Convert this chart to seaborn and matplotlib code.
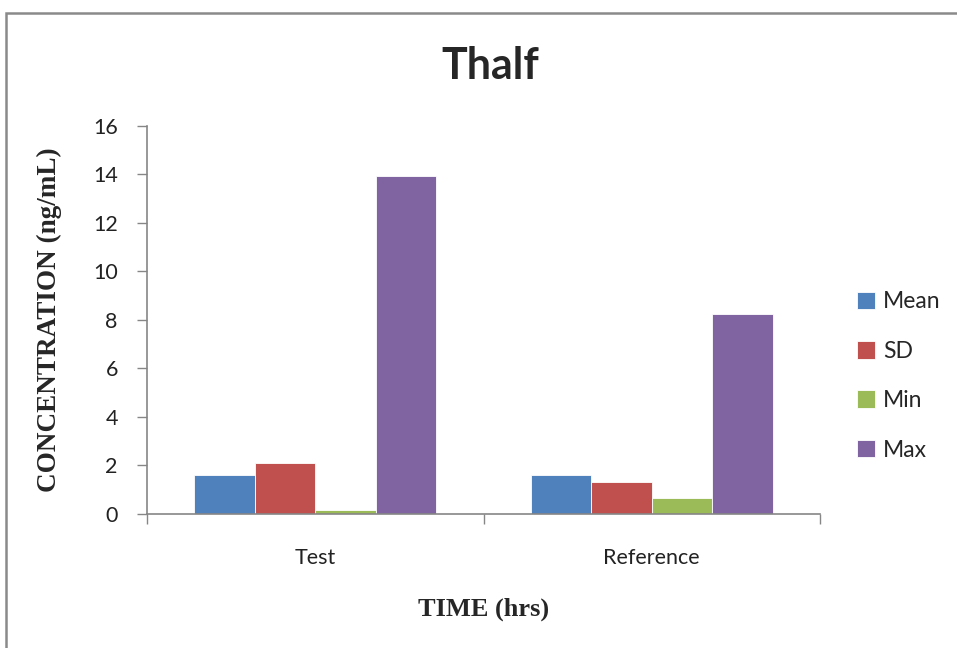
import matplotlib
matplotlib.use("Agg")
import matplotlib.pyplot as plt
from matplotlib.patches import Rectangle
import seaborn as sns
import pandas as pd

# Thalf summary statistics per formulation
groups = ["Test", "Reference"]
stats = ["Mean", "SD", "Min", "Max"]
test_values = [1.58, 2.07, 0.15, 13.95]
reference_values = [1.58, 1.32, 0.62, 8.22]
yticks = [0, 2, 4, 6, 8, 10, 12, 14, 16]
palette = ["#4F81BD", "#C0504D", "#9BBB59", "#8064A2"]

rows = []
for g, vals in zip(groups, [test_values, reference_values]):
    for s, v in zip(stats, vals):
        rows.append({"group": g, "stat": s, "value": v})
df = pd.DataFrame(rows)

sns.set_theme(style="white")
plt.rcParams["font.family"] = ["Lato", "DejaVu Sans"]

fig = plt.figure(figsize=(9.57, 6.48), dpi=100)
ax = fig.add_axes([147 / 957, 1 - 513.5 / 648, (820 - 147) / 957, (513.5 - 126) / 648])

sns.barplot(data=df, x="group", y="value", hue="stat", order=groups,
            hue_order=stats, palette=palette, width=0.72, gap=0,
            saturation=1, edgecolor="white", linewidth=0.6, ax=ax, legend=True)

ax.set_ylim(0, 16)
ax.set_xlim(-0.5, 1.5)
ax.set_yticks(yticks)
ax.set_yticklabels([str(t) for t in yticks], fontsize=15.5, color="#222222")

# category boundary ticks (major) and centred labels (minor)
ax.set_xticks([-0.5, 0.5, 1.5])
ax.set_xticklabels(["", "", ""])
ax.set_xticks([0, 1], minor=True)
ax.set_xticklabels(groups, minor=True, fontsize=15.5, color="#222222")
ax.tick_params(axis="x", which="major", direction="out", length=7, width=1,
               color="#868686", bottom=True)
ax.tick_params(axis="x", which="minor", length=0, pad=25)
ax.tick_params(axis="y", direction="out", length=7, width=1, color="#868686",
               left=True, pad=14)

for side in ["top", "right"]:
    ax.spines[side].set_visible(False)
for side in ["left", "bottom"]:
    ax.spines[side].set_color("#868686")
    ax.spines[side].set_linewidth(1.2)

ax.set_xlabel("TIME (hrs)", fontsize=19, fontweight="bold",
              family=["Liberation Serif", "DejaVu Serif"], labelpad=21)
ax.set_ylabel("CONCENTRATION (ng/mL)", fontsize=19.5, fontweight="bold",
              family=["Liberation Serif", "DejaVu Serif"], labelpad=22)

fig.text(490 / 957, 1 - 66 / 648, "Thalf", ha="center", va="center",
         fontsize=31, fontweight="bold", family=["Lato", "DejaVu Sans"])

handles, labels = ax.get_legend_handles_labels()
ax.get_legend().remove()
fig.legend(handles, labels, loc="center left",
           bbox_to_anchor=(836 / 957, 1 - 376 / 648), frameon=False,
           fontsize=16.5, labelspacing=1.24, handlelength=0.8, handleheight=0.8,
           handletextpad=0.35)

# outer chart border
fig.patches.append(Rectangle((6 / 957, -0.1), 2.0, (648 - 13) / 648 + 0.1,
                             transform=fig.transFigure, fill=False,
                             edgecolor="#8a8a8a", linewidth=1.8))

fig.savefig("out.png", dpi=100)
